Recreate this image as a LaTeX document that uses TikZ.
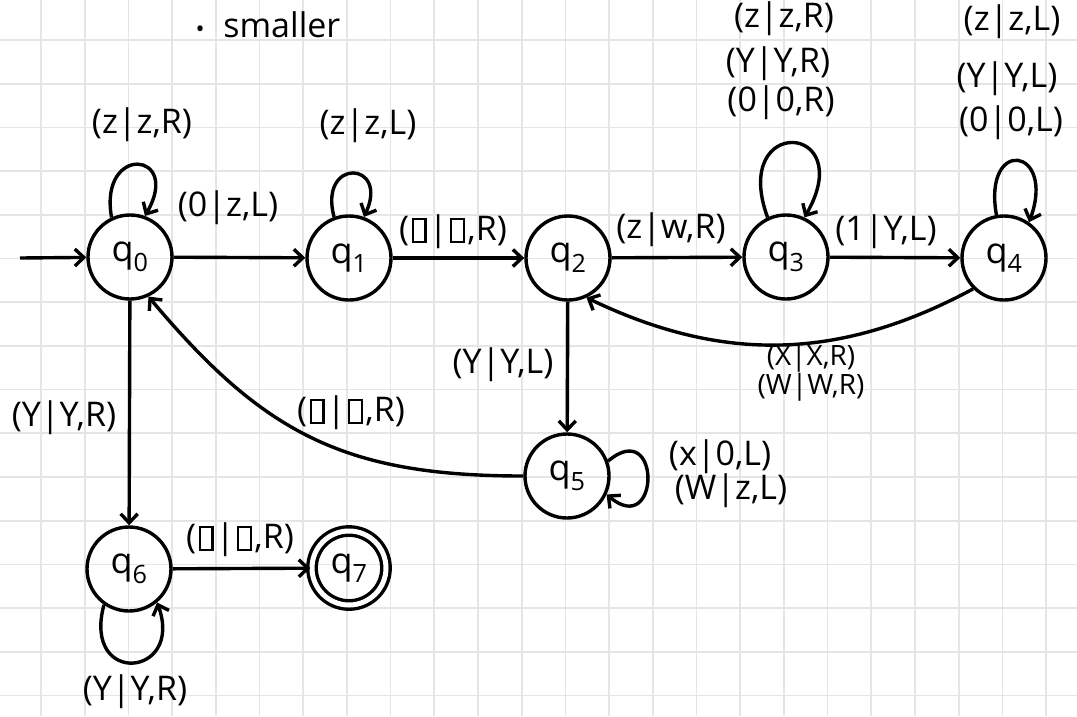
\documentclass[tikz,border=0pt]{standalone}
\usepackage{fontspec}
\setmainfont{Open Sans}
\usetikzlibrary{arrows.meta}

\newcommand{\qs}[1]{q\textsubscript{#1}}
\newcommand{\blnk}{{\setlength{\fboxsep}{0pt}\setlength{\fboxrule}{2.4pt}%
  \kern0.07em\fbox{\rule{0pt}{0.6em}\hspace{0.3em}}\kern0.07em}}

\begin{document}
\begin{tikzpicture}[
    x=1pt, y=-1pt,
    line width=3.4pt,
    font=\fontsize{34}{40}\selectfont,
    >={Straight Barb[length=9pt,width=17pt]},
    state/.style={circle, draw, minimum size=84pt, inner sep=0pt,
                  font=\fontsize{36}{40}\selectfont},
    accepting/.style={double, double distance=5pt, minimum size=74pt},
    gridline/.style={draw=black!10, line width=1.7pt},
    small/.style={font=\fontsize{28}{29}\selectfont, align=center}
  ]
  % squared paper
  \useasboundingbox (0,0) rectangle (1077,716);
  \fill[white] (0,0) rectangle (1077,716);
  \foreach \i in {0,...,23}
    \draw[gridline] ({41+43.7*\i},0) -- ({41+43.7*\i},716);
  \foreach \j in {0,...,15}
    \draw[gridline] (0,{40+43.7*\j}) -- (1077,{40+43.7*\j});

  \node (title) at (268,25) {{\fontsize{24}{24}\selectfont •}\hspace{0.55em}smaller};

  % states
  \node[state] (q0) at (130,257) {\qs{0}};
  \node[state] (q1) at (349,258) {\qs{1}};
  \node[state] (q2) at (568,258) {\qs{2}};
  \node[state] (q3) at (786,257) {\qs{3}};
  \node[state] (q4) at (1004,258) {\qs{4}};
  \node[state] (q5) at (567,476) {\qs{5}};
  \node[state] (q6) at (129,569) {\qs{6}};
  \node[state, accepting] (q7) at (349,568) {\qs{7}};

  % transitions
  \coordinate (init) at (20,258);
  \draw[->] (init) -- (q0);
  \draw[->] (q0) -- (q1);
  \draw[->] (q1) -- (q2);
  \draw[->] (q2) -- (q3);
  \draw[->] (q3) -- (q4);
  \draw[->] (q4.225) to[bend left=27] (q2.-65);
  \draw[->] (q2) -- (q5);
  \draw[->] (q5.west) to[out=180, in=-50, looseness=1.1] (q0.-65);
  \draw[->] (q0) -- (q6);
  \draw[->] (q6) -- (q7);

  % self loops
  \draw[->] (q0.115) .. controls +(100:75pt) and +(60:75pt) .. (q0.70);
  \draw[->] (q1.110) .. controls +(105:62pt) and +(65:62pt) .. (q1.70);
  \draw[->] (q3.115) .. controls +(110:110pt) and +(60:110pt) .. (q3.65);
  \draw[->] (q4.100) .. controls +(100:80pt) and +(70:80pt) .. (q4.55);
  \draw[->] (q5.20) .. controls +(40:70pt) and +(-40:70pt) .. (q5.-25);
  \draw[->] (q6.235) .. controls +(-105:85pt) and +(-70:80pt) .. (q6.-50);

  % labels
  \node (lq0) at (142,125) {(z|z,R)};
  \node (l01) at (228,208) {(0|z,L)};
  \node (lq1) at (368,126) {(z|z,L)};
  \node (l12) at (453,232) {(\blnk|\blnk,R)};
  \node (l23) at (671,230) {(z|w,R)};
  \node (l34) at (886,232) {(1|Y,L)};
  \node (lq3a) at (784,19) {(z|z,R)};
  \node (lq3b) at (778,64) {(Y|Y,R)};
  \node (lq3c) at (781,103) {(0|0,R)};
  \node (lq4a) at (1012,22) {(z|z,L)};
  \node (lq4b) at (1007,79) {(Y|Y,L)};
  \node (lq4c) at (1011,123) {(0|0,L)};
  \node[small] (l42) at (811,373) {(X|X,R)\\(W|W,R)};
  \node (l25) at (503,365) {(Y|Y,L)};
  \node (lq5a) at (720,457) {(x|0,L)};
  \node (lq5b) at (731,491) {(W|z,L)};
  \node (l50) at (351,413) {(\blnk|\blnk,R)};
  \node (l06) at (64,418) {(Y|Y,R)};
  \node (l67) at (240,540) {(\blnk|\blnk,R)};
  \node (lq6) at (135,692) {(Y|Y,R)};
\end{tikzpicture}
\end{document}
